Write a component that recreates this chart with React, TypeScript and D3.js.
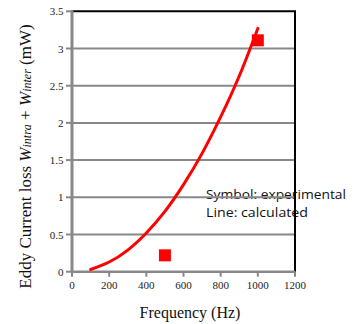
import React from 'react';
import * as d3 from 'd3';

// calculated eddy current loss (line)
const calcFreq = [100, 200, 300, 400, 500, 600, 700, 800, 900, 1000];
const calcLoss = [0.03, 0.13, 0.29, 0.52, 0.81, 1.17, 1.59, 2.08, 2.63, 3.27];

// experimental points (symbols)
const expFreq = [500, 1000];
const expLoss = [0.22, 3.11];

const xTicks = [0, 200, 400, 600, 800, 1000, 1200];
const yTicks = [0, 0.5, 1, 1.5, 2, 2.5, 3, 3.5];

const W = 354;
const H = 324;
const serif = '"Liberation Serif", "Times New Roman", serif';

export default function App() {
    const x = d3.scaleLinear().domain([0, 1200]).range([72, 295]);
    const y = d3.scaleLinear().domain([0, 3.5]).range([271.7, 11.3]);

    const line = d3
        .line<number>()
        .x((d, i) => x(calcFreq[i]))
        .y((d) => y(d))
        .curve(d3.curveNatural);

    const grey = '#888888';

    return (
        <svg width={W} height={H} style={{ position: 'absolute', left: 0, top: 0, background: '#fff' }}>
            {/* annotation */}
            <g fontFamily='"Open Sans", "Noto Sans", sans-serif' fontSize={13.5} fill="#111">
                <text x={206} y={199} textLength={140} lengthAdjust="spacingAndGlyphs">
                    Symbol: experimental
                </text>
                <text x={206} y={217} textLength={102} lengthAdjust="spacingAndGlyphs">
                    Line: calculated
                </text>
            </g>

            {/* grid */}
            {yTicks.slice(1, -1).map((t) => (
                <line key={t} x1={x(0)} x2={x(1200)} y1={y(t)} y2={y(t)} stroke={grey} strokeWidth={2} />
            ))}
            <line x1={x(0)} x2={x(1200) + 1} y1={y(3.5)} y2={y(3.5)} stroke="#000" strokeWidth={2} />
            <line x1={x(1200)} x2={x(1200)} y1={y(3.5)} y2={y(0)} stroke="#000" strokeWidth={2} />

            {/* axes */}
            <line x1={x(0)} x2={x(1200)} y1={y(0)} y2={y(0)} stroke={grey} strokeWidth={2.5} />
            <line x1={x(0)} x2={x(0)} y1={y(3.5) - 1} y2={y(0) + 1} stroke={grey} strokeWidth={3} />
            {yTicks.map((t) => (
                <g key={t}>
                    <line x1={x(0) - 6} x2={x(0)} y1={y(t)} y2={y(t)} stroke={grey} strokeWidth={2} />
                    <text x={63.5} y={y(t) + 4} textAnchor="end" fontFamily={serif} fontSize={11} fill="#222">
                        {t}
                    </text>
                </g>
            ))}
            {xTicks.map((t) => (
                <g key={t}>
                    <line x1={x(t)} x2={x(t)} y1={y(0)} y2={y(0) + 5} stroke={grey} strokeWidth={2} />
                    <text x={x(t)} y={289} textAnchor="middle" fontFamily={serif} fontSize={11} fill="#222">
                        {t}
                    </text>
                </g>
            ))}

            {/* titles */}
            <text x={190} y={318} textAnchor="middle" fontFamily={serif} fontSize={16} fill="#111">
                Frequency (Hz)
            </text>
            <text
                transform={`translate(31,156.5) rotate(-90)`}
                textAnchor="middle"
                fontFamily={serif}
                fontSize={17}
                fill="#111"
            >
                Eddy Current loss{' '}
                <tspan fontStyle="italic">W</tspan>
                <tspan fontStyle="italic" fontSize={12}>intra</tspan>
                <tspan> + </tspan>
                <tspan fontStyle="italic">W</tspan>
                <tspan fontStyle="italic" fontSize={12}>inter</tspan>
                <tspan> (mW)</tspan>
            </text>

            {/* data */}
            <path d={line(calcLoss) || ''} fill="none" stroke="#ff0000" strokeWidth={3} strokeLinecap="round" />
            {expFreq.map((f, i) => (
                <rect key={f} x={x(f) - 6} y={y(expLoss[i]) - 6} width={12} height={12} fill="#ff0000" />
            ))}
        </svg>
    );
}
